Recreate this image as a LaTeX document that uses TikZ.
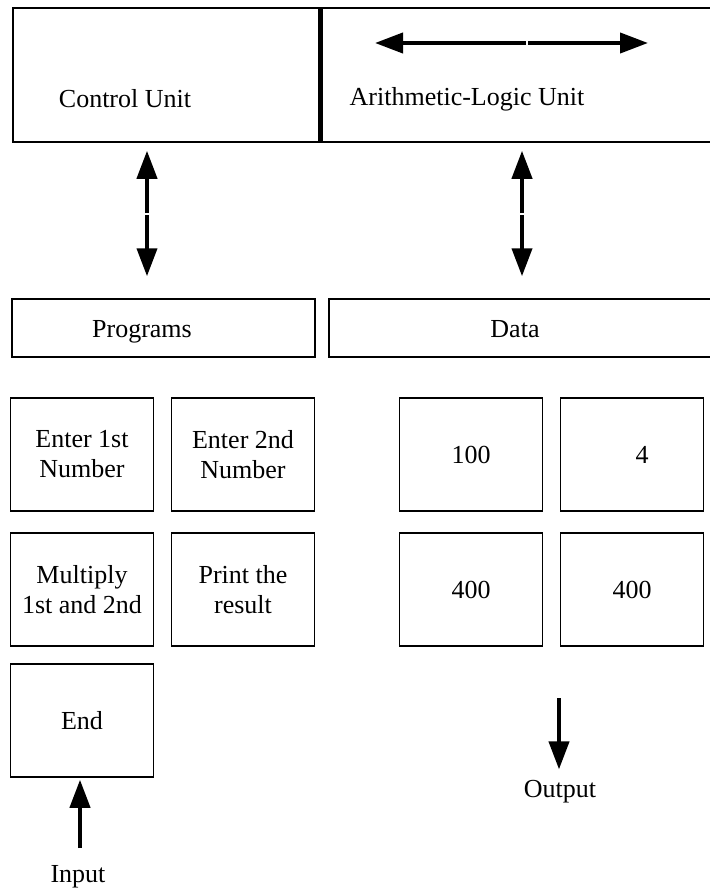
\documentclass[tikz,border=0pt]{standalone}
\usepackage{fontspec}
\setmainfont{Liberation Serif}
\usetikzlibrary{arrows.meta}

\begin{document}
\begin{tikzpicture}
	[x=0.5pt,y=-0.5pt,line cap=butt,
	%Styles
	unit box/.style={draw,line width=0.75pt,inner sep=0pt},
	divider/.style={line width=2.5pt},
	cell/.style={draw,line width=0.75pt,inner sep=0pt,minimum width=71.5pt,minimum height=56.5pt,
		align=center,font=\fontsize{13}{15}\selectfont},
	flow/.style={line width=2pt,-{Triangle[length=14pt,width=10pt]}},
	caption/.style={anchor=base,inner sep=0pt,font=\fontsize{13}{15}\selectfont}
	]
	\useasboundingbox (0,0) rectangle (709,888);

	%Processor
	\node[unit box,minimum width=153.5pt,minimum height=67pt] (cu) at (166.5,75) {};
	\node[unit box,minimum width=197.5pt,minimum height=67pt] (alu) at (517.5,75) {};
	\draw[divider] (cu.north east) -- (cu.south east);
	\node[caption] (cutext) at (125,108) {Control Unit};
	\node[caption] (alutext) at (467,105) {Arithmetic-Logic Unit};

	\coordinate (alumid) at (527,43);
	\coordinate (alul) at (375,43);
	\coordinate (alur) at (648,43);
	\draw[flow,shorten <=0.5pt] (alumid) -- (alul);
	\draw[flow,shorten <=0.5pt] (alumid) -- (alur);

	%Memory
	\node[unit box,minimum width=151.5pt,minimum height=29pt] (prog) at (163.5,328) {};
	\node[unit box,minimum width=193pt,minimum height=29pt] (data) at (522,328) {};
	\node[caption] (progtext) at (142,337) {Programs};
	\node[caption] (datatext) at (515,337) {Data};

	\coordinate (cumid) at (147,214);
	\coordinate (alumid2) at (522,214);
	\draw[flow,shorten <=0.5pt,shorten >=4pt] (cumid) -- (cumid |- cu.south);
	\draw[flow,shorten <=0.5pt,shorten >=11pt] (cumid) -- (cumid |- prog.north);
	\draw[flow,shorten <=0.5pt,shorten >=4pt] (alumid2) -- (alumid2 |- alu.south);
	\draw[flow,shorten <=0.5pt,shorten >=11pt] (alumid2) -- (alumid2 |- data.north);

	%Program cells
	\node[cell] (enter1) at (82,454.5) {Enter 1st\\Number};
	\node[cell] (enter2) at (243,454.5) {Enter 2nd\\Number};
	\node[cell] (multiply) at (82,589.5) {Multiply\\1st and 2nd};
	\node[cell] (print) at (243,589.5) {Print the\\result};
	\node[cell] (endcell) at (82,720.5) {End};

	%Data cells
	\node[cell] (num1) at (471,454.5) {100};
	\node[cell] (num2) at (632,454.5) {\hspace{10pt}4};
	\node[cell] (res1) at (471,589.5) {400};
	\node[cell] (res2) at (632,589.5) {400};

	%Input and output
	\node[caption] (input) at (78,882) {Input};
	\node[caption] (output) at (560,797) {Output};
	\coordinate (inbase) at (80,848);
	\coordinate (outtop) at (559,698);
	\draw[flow,shorten >=1pt] (inbase) -- (inbase |- endcell.south);
	\draw[flow,shorten >=5pt] (outtop) -- (outtop |- output.north);
\end{tikzpicture}
\end{document}
